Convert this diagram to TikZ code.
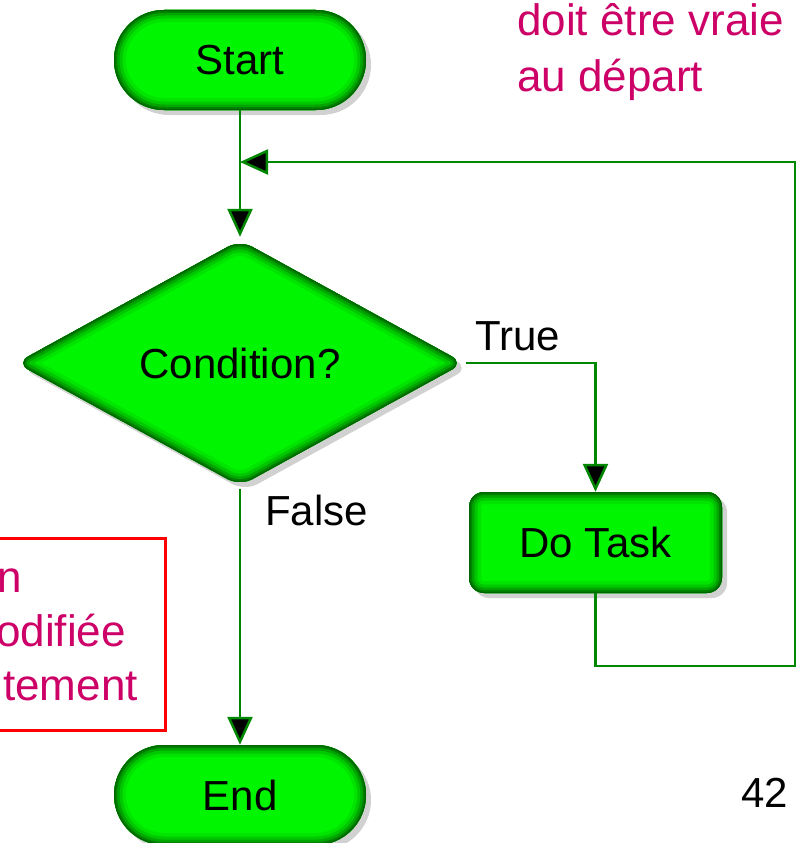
\documentclass[tikz,border=0pt]{standalone}
\usepackage{fontspec}
\setmainfont{Liberation Sans}
\usetikzlibrary{arrows.meta,shapes.geometric,shadows}
\definecolor{fbright}{RGB}{0,245,0}
\definecolor{gA}{RGB}{0,228,0}
\definecolor{gB}{RGB}{0,200,0}
\definecolor{gC}{RGB}{0,165,0}
\definecolor{gD}{RGB}{0,130,0}
\definecolor{gE}{RGB}{0,100,0}
\definecolor{lineg}{RGB}{0,135,0}
\definecolor{mag}{RGB}{204,0,102}
\tikzset{
  flowfont/.style={font=\fontsize{42}{50}\selectfont},
  notefont/.style={font=\fontsize{44}{55}\selectfont, text=mag},
  shadowed/.style={drop shadow={shadow xshift=5pt,shadow yshift=-5pt,opacity=0.18,fill=black}},
  glowrect/.style n args={3}{path picture={
    \foreach \w/\c in {24/gA,17/gB,11/gC,6/gD,2.5/gE}{
      \draw[line width=\w pt,draw=\c,rounded corners=#3]
        ([xshift=-#1,yshift=-#2]path picture bounding box.center) rectangle
        ([xshift=#1,yshift=#2]path picture bounding box.center);}}},
  glowdia/.style n args={3}{path picture={
    \foreach \w/\c in {24/gA,17/gB,11/gC,6/gD,2.5/gE}{
      \draw[line width=\w pt,draw=\c,rounded corners=#3]
        ([xshift=#1]path picture bounding box.center) --
        ([yshift=#2]path picture bounding box.center) --
        ([xshift=-#1]path picture bounding box.center) --
        ([yshift=-#2]path picture bounding box.center) -- cycle;}}},
  term/.style={shape=rectangle, rounded corners=50pt, minimum width=252pt,
    minimum height=100pt, inner sep=0pt, fill=fbright, flowfont, shadowed,
    glowrect={126pt}{50pt}{50pt}},
  taskbox/.style={shape=rectangle, rounded corners=15pt, minimum width=253pt,
    minimum height=101pt, inner sep=0pt, fill=fbright, flowfont, shadowed,
    glowrect={126.5pt}{50.5pt}{15pt}},
  decision/.style={shape=diamond, rounded corners=14pt, minimum width=448pt,
    minimum height=246pt, inner sep=0pt, fill=fbright, flowfont, shadowed,
    glowdia={224pt}{123pt}{14pt}},
  flowline/.style={draw=lineg, line width=2.5pt},
  flowarrow/.style={flowline, -{Triangle[length=28pt,width=25pt,fill=black]}},
  lbl/.style={flowfont, inner sep=0pt, anchor=base west}
}
\begin{document}
\begin{tikzpicture}[x=1pt,y=-1pt]
\useasboundingbox (0,0) rectangle (802,843);
\clip (0,0) rectangle (802,843);
\node[term] (start) at (240,60) {Start};
\node[decision] (cond) at (240,363) {Condition?};
\node[taskbox] (task) at (595.5,542.5) {Do Task};
\node[term] (end) at (240,795) {End};
\coordinate (join) at (240,162);
\coordinate (lb) at (795,666);
\draw[flowarrow] (start.south) -- ([yshift=3pt]cond.north);
\draw[flowarrow] ([xshift=2pt]cond.east) -| (task.north);
\draw[flowarrow] ([yshift=-3pt]cond.south) -- (end.north);
\draw[flowarrow] (task.south) |- (lb) |- (join);
\node[lbl] (truelbl) at (475,350) {True};
\node[lbl] (falselbl) at (265,525) {False};
\node[draw=red, line width=3pt, minimum width=265pt, minimum height=192pt, inner sep=0pt] (note) at (32.5,634) {};
\node[notefont, inner sep=0pt, anchor=base east] (n1) at (22,592) {n};
\node[notefont, inner sep=0pt, anchor=base east] (n2) at (126,646) {odifiée};
\node[notefont, inner sep=0pt, anchor=base east] (n3) at (138,700) {tement};
\node[notefont, inner sep=0pt, anchor=base west] (t1) at (517,36) {doit être vraie};
\node[notefont, inner sep=0pt, anchor=base west] (t2) at (517,92) {au départ};
\node[font=\fontsize{42}{50}\selectfont, inner sep=0pt, anchor=base east] (pnum) at (788,807) {42};
\end{tikzpicture}
\end{document}
